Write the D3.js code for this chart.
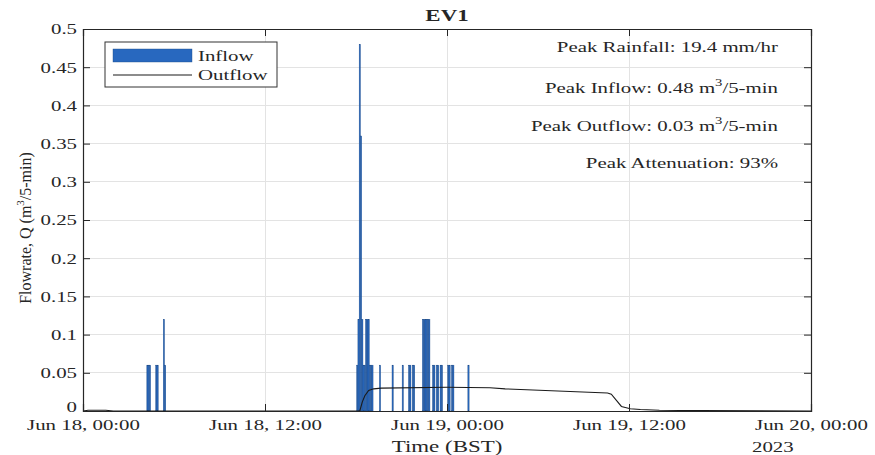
<!DOCTYPE html>
<html>
<head>
<meta charset="utf-8">
<script src="https://cdn.jsdelivr.net/npm/d3@7"></script>
<style>
  body { margin: 0; background: #fff; }
  svg { display: block; }
  text { font-family: "Liberation Serif", "Times New Roman", serif; fill: #262626; }
</style>
</head>
<body>
<div id="chart"></div>
<script>
// ---- Daten ----
const inflowTimes = [
  '2023-06-18 04:15', '2023-06-18 04:20', '2023-06-18 04:25',
  '2023-06-18 04:50', '2023-06-18 04:55', '2023-06-18 05:20', '2023-06-18 05:25',
  '2023-06-18 18:05', '2023-06-18 18:10', '2023-06-18 18:15', '2023-06-18 18:20',
  '2023-06-18 18:25', '2023-06-18 18:30', '2023-06-18 18:35', '2023-06-18 18:40',
  '2023-06-18 18:45', '2023-06-18 18:50', '2023-06-18 18:55', '2023-06-18 19:00',
  '2023-06-18 19:05', '2023-06-18 19:35', '2023-06-18 20:25', '2023-06-18 21:05',
  '2023-06-18 21:30', '2023-06-18 21:35', '2023-06-18 21:45', '2023-06-18 21:50',
  '2023-06-18 22:25', '2023-06-18 22:30', '2023-06-18 22:35', '2023-06-18 22:40',
  '2023-06-18 22:45', '2023-06-18 22:50',
  '2023-06-18 23:05', '2023-06-18 23:10', '2023-06-18 23:20', '2023-06-18 23:25',
  '2023-06-18 23:35', '2023-06-18 23:40',
  '2023-06-19 00:05', '2023-06-19 00:10', '2023-06-19 00:20', '2023-06-19 00:25',
  '2023-06-19 01:25'
];
const inflowValues = [
  0.06, 0.06, 0.06,
  0.06, 0.06, 0.12, 0.06,
  0.06, 0.12, 0.48, 0.36,
  0.12, 0.06, 0.06, 0.12,
  0.12, 0.12, 0.06, 0.06,
  0.06, 0.06, 0.06, 0.06,
  0.06, 0.06, 0.06, 0.06,
  0.12, 0.12, 0.12, 0.12,
  0.12, 0.12,
  0.06, 0.06, 0.06, 0.06,
  0.06, 0.06,
  0.06, 0.06, 0.06, 0.06,
  0.06
];

const outflowTimes = [
  '2023-06-18 00:00', '2023-06-18 00:20', '2023-06-18 01:30', '2023-06-18 02:00',
  '2023-06-18 18:15', '2023-06-18 18:25', '2023-06-18 18:35', '2023-06-18 18:50',
  '2023-06-18 19:10', '2023-06-18 19:40', '2023-06-19 00:00', '2023-06-19 02:50',
  '2023-06-19 03:50', '2023-06-19 10:35', '2023-06-19 10:50', '2023-06-19 11:30',
  '2023-06-19 12:05', '2023-06-19 12:45', '2023-06-19 14:00', '2023-06-19 16:40',
  '2023-06-20 00:00'
];
const outflowValues = [
  0, 0.001, 0.001, 0,
  0, 0.012, 0.02, 0.027,
  0.029, 0.030, 0.031, 0.0305,
  0.029, 0.0235, 0.022, 0.006,
  0.003, 0.002, 0.001, 0.0005,
  0
];

const yTickValues = [0, 0.05, 0.1, 0.15, 0.2, 0.25, 0.3, 0.35, 0.4, 0.45, 0.5];
const yTickLabels = ['0', '0.05', '0.1', '0.15', '0.2', '0.25', '0.3', '0.35', '0.4', '0.45', '0.5'];
const xTickTimes = ['2023-06-18 00:00', '2023-06-18 12:00', '2023-06-19 00:00', '2023-06-19 12:00', '2023-06-20 00:00'];
const xTickLabels = ['Jun 18, 00:00', 'Jun 18, 12:00', 'Jun 19, 00:00', 'Jun 19, 12:00', 'Jun 20, 00:00'];

// Textteile: [vor, hochgestellt, nach]
const notes = [
  ['Peak Rainfall: 19.4 mm/hr', '', ''],
  ['Peak Inflow: 0.48 m', '3', '/5-min'],
  ['Peak Outflow: 0.03 m', '3', '/5-min'],
  ['Peak Attenuation: 93%', '', '']
];

// ---- Aufbau ----
const W = 875, H = 455;
const M = { top: 29, right: 64, bottom: 44, left: 83 };
const SX = 1.39;          // Schrift im Bild horizontal gestreckt
const axisColor = '#262626';

const parse = d3.timeParse('%Y-%m-%d %H:%M');
const inflow = inflowTimes.map((t, i) => ({ t: parse(t), v: inflowValues[i] }));
const outflow = outflowTimes.map((t, i) => ({ t: parse(t), v: outflowValues[i] }));

const svg = d3.select('#chart').append('svg').attr('width', W).attr('height', H);

const x = d3.scaleTime()
  .domain([parse(xTickTimes[0]), parse(xTickTimes[xTickTimes.length - 1])])
  .range([M.left, W - M.right]);
const y = d3.scaleLinear().domain([0, 0.5]).range([H - M.bottom, M.top]);

// Gitter
const gGrid = svg.append('g').attr('class', 'grid');
gGrid.selectAll('line.gx').data(xTickTimes.map(parse)).join('line')
  .attr('class', 'gx')
  .attr('x1', d => x(d)).attr('x2', d => x(d))
  .attr('y1', M.top).attr('y2', H - M.bottom)
  .attr('stroke', '#e3e3e3').attr('stroke-width', 1)
  .attr('shape-rendering', 'crispEdges');
gGrid.selectAll('line.gy').data(yTickValues).join('line')
  .attr('class', 'gy')
  .attr('x1', M.left).attr('x2', W - M.right)
  .attr('y1', d => y(d)).attr('y2', d => y(d))
  .attr('stroke', '#e3e3e3').attr('stroke-width', 1)
  .attr('shape-rendering', 'crispEdges');

// Balken (5-min Intervalle)
const binW = x(d3.timeMinute.offset(inflow[0].t, 5)) - x(inflow[0].t);
svg.append('g').attr('class', 'bars')
  .selectAll('rect').data(inflow).join('rect')
  .attr('x', d => x(d.t) - binW / 2)
  .attr('width', binW)
  .attr('y', d => y(d.v))
  .attr('height', d => y(0) - y(d.v))
  .attr('fill', '#2868bf')
  .attr('stroke', '#1d4a86')
  .attr('stroke-width', 0.4);

// Abfluss
const line = d3.line().x(d => x(d.t)).y(d => y(d.v));
svg.append('path').datum(outflow)
  .attr('d', line)
  .attr('fill', 'none')
  .attr('stroke', '#1a1a1a')
  .attr('stroke-width', 1.1);

// Achsen
function styleAxis(g) {
  g.select('.domain').attr('stroke', axisColor).attr('stroke-width', 1.2);
  g.selectAll('.tick line').attr('stroke', axisColor);
  g.selectAll('.tick text').attr('font-size', 15).attr('fill', axisColor)
    .attr('font-family', '"Liberation Serif", "Times New Roman", serif');
}
const yAxis = d3.axisLeft(y).tickValues(yTickValues)
  .tickFormat((d, i) => yTickLabels[i]).tickSize(-7).tickPadding(4.3);
svg.append('g').attr('transform', `translate(${M.left},0)`)
  .call(yAxis).call(styleAxis)
  .call(g => g.selectAll('.tick text').attr('transform', `scale(${SX},1)`)
    .attr('dy', (d, i) => i === 0 ? '0.05em' : '0.32em'));

const xAxis = d3.axisBottom(x).tickValues(xTickTimes.map(parse))
  .tickFormat((d, i) => xTickLabels[i]).tickSize(-7).tickPadding(8.6);
svg.append('g').attr('transform', `translate(0,${H - M.bottom})`)
  .call(xAxis).call(styleAxis)
  .call(g => g.selectAll('.tick text').attr('transform', `scale(${SX},1)`)
    .attr('x', 0));

// Spiegelachsen oben / rechts (nur Striche)
svg.append('g').attr('transform', `translate(0,${M.top})`)
  .call(d3.axisTop(x).tickValues(xTickTimes.map(parse)).tickFormat('').tickSize(-7))
  .call(styleAxis);
svg.append('g').attr('transform', `translate(${W - M.right},0)`)
  .call(d3.axisRight(y).tickValues(yTickValues).tickFormat('').tickSize(-7))
  .call(styleAxis);

// gestreckter Text
function stext(x0, y0, anchor, size) {
  return svg.append('text')
    .attr('transform', `translate(${x0},${y0}) scale(${SX},1)`)
    .attr('text-anchor', anchor)
    .attr('font-size', size);
}

// Titel & Beschriftungen
stext((M.left + W - M.right) / 2, 21, 'middle', 16.5).attr('font-weight', 'bold').text('EV1');
stext((M.left + W - M.right) / 2, 452, 'middle', 16.5).text('Time (BST)');
stext(752, 452, 'start', 15).text('2023');

const yl = svg.append('text')
  .attr('transform', `translate(31,${(M.top + H - M.bottom) / 2 + 8}) rotate(-90)`)
  .attr('text-anchor', 'middle')
  .attr('font-size', 16);
yl.append('tspan').text('Flowrate, Q (m');
yl.append('tspan').attr('font-size', 11).attr('dy', -7).text('3');
yl.append('tspan').attr('dy', 7).text('/5-min)');

// Kennwerte rechts oben
const noteY = [52, 93, 131, 168];
notes.forEach((n, i) => {
  const t = stext(778, noteY[i], 'end', 15);
  t.append('tspan').text(n[0]);
  if (n[1]) {
    t.append('tspan').attr('font-size', 10.5).attr('dy', -7).text(n[1]);
    t.append('tspan').attr('dy', 7).text(n[2]);
  }
});

// Legende
const lg = svg.append('g').attr('class', 'legend');
lg.append('rect').attr('x', 105).attr('y', 42).attr('width', 172).attr('height', 45)
  .attr('fill', '#fff').attr('stroke', '#333').attr('stroke-width', 1);
lg.append('rect').attr('x', 113).attr('y', 49).attr('width', 79).attr('height', 13)
  .attr('fill', '#2868bf').attr('stroke', '#1d4a86').attr('stroke-width', 0.4);
lg.append('line').attr('x1', 113).attr('x2', 192).attr('y1', 75).attr('y2', 75)
  .attr('stroke', '#1a1a1a').attr('stroke-width', 1.1);
svg.append('text').attr('transform', `translate(198,61) scale(${SX},1)`)
  .attr('font-size', 15).text('Inflow');
svg.append('text').attr('transform', `translate(198,80) scale(${SX},1)`)
  .attr('font-size', 15).text('Outflow');
</script>
</body>
</html>
